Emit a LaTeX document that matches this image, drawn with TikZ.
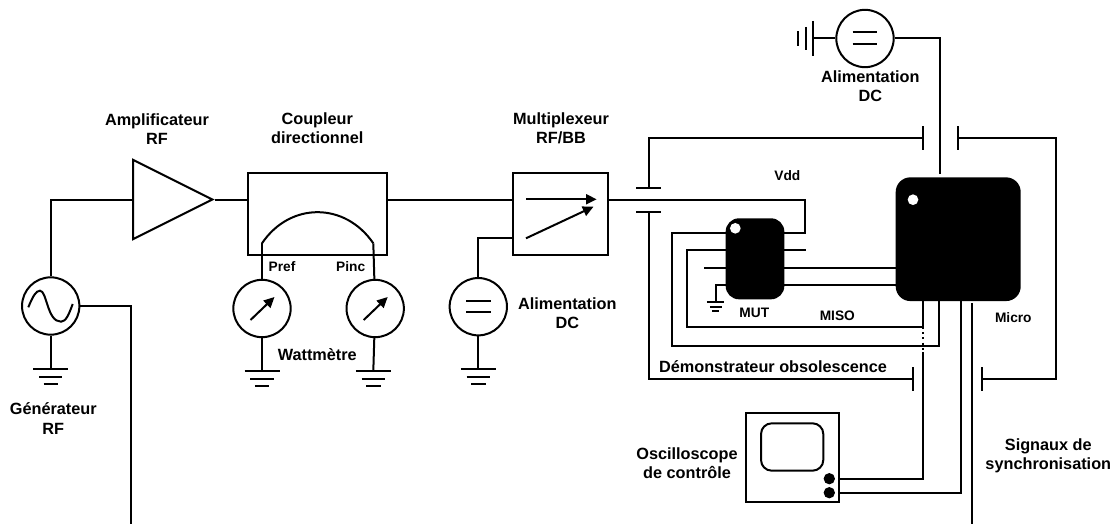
\documentclass[tikz,border=0pt]{standalone}
\usepackage{fontspec}
\setmainfont{Liberation Sans}
\usetikzlibrary{shapes.geometric, arrows.meta, positioning, calc}

\begin{document}
\begin{tikzpicture}[
  x=0.75pt, y=-0.75pt, line width=1.5pt,
  node distance=5pt and 40pt,
  source/.style={circle, draw, inner sep=0pt, minimum size=43pt},
  meter/.style={source, path picture={
      \draw[needle] ($(path picture bounding box.center)+(-11.5,11.5)$)
        -- ($(path picture bounding box.center)+(12.5,-11.5)$);}},
  dcsource/.style={source, path picture={
      \draw ($(path picture bounding box.center)+(-12.3,-6)$) -- ++(24.6,0);
      \draw ($(path picture bounding box.center)+(-12.3,5.6)$) -- ++(24.6,0);}},
  block/.style={rectangle, draw, inner sep=0pt},
  chip/.style={rectangle, fill=black, rounded corners=10pt, inner sep=0pt, outer sep=0pt},
  hole/.style={circle, fill=white, inner sep=0pt, minimum size=8pt},
  knob/.style={circle, fill=black, inner sep=0pt, minimum size=8.5pt},
  plateh/.style={fill=black, inner sep=0pt, outer sep=0pt, minimum width=19pt, minimum height=1.5pt},
  platev/.style={fill=black, inner sep=0pt, outer sep=0pt, minimum width=1.5pt, minimum height=18pt},
  needle/.style={-{Triangle[length=8pt,width=7.5pt]}},
  label/.style={align=center, inner sep=0pt, font=\fontsize{12.2}{14.3}\selectfont\bfseries},
  small/.style={align=center, inner sep=0pt, font=\fontsize{10.3}{12}\selectfont\bfseries},
  ground/.pic={
    \draw (-17.5,0) -- (17.5,0);
    \draw (-11.7,7.5) -- (11.7,7.5);
    \draw (-7.2,15) -- (7.2,15);}
]
\useasboundingbox (0,0) rectangle (1113,524);

% RF chain
\node[source] (gen) at (50.7,306) {};
\node[isosceles triangle, isosceles triangle apex angle=53.13, draw, inner sep=0pt,
      minimum width=59.6pt, anchor=lower side] (amp) at (132,199.5) {};
\node[block, minimum width=104pt, minimum height=61.3pt] (coupler) at (317.65,214.15) {};
\node[block, minimum width=71.25pt, minimum height=61.3pt] (mux) at (560.8,214.15) {};

% Sine of the generator
\draw (28.3,307.3) .. controls (33,296) and (36,290.7) .. (40,290.7)
  .. controls (47,290.7) and (47,321.7) .. (61,321.7)
  .. controls (66,321.7) and (69,314) .. (72.7,304);

% Wattmeters
\node[meter] (pref) at (262,308.5) {};
\node[meter, right=40.4pt of pref] (pinc) {};
\coordinate (prefin) at (262,243.3);
\coordinate (pincin) at (373.3,243.3);
\draw (prefin) .. controls (290,201.8) and (345,201.8) .. (pincin);
\draw (prefin) -- (pref);
\draw (pincin) -- (pinc);

% Switch of the multiplexer
\coordinate (muxa) at (526,199.3);
\coordinate (muxb) at (526,238.3);
\draw[needle] (muxa) -- (596.7,199.3);
\draw[needle] (muxb) -- (593.5,206.7);

% DC supplies
\node[dcsource] (dcmux) at (478.3,306.7) {};
\node[dcsource] (dctop) at (865,38.5) {};

% Chips
\node[chip, minimum width=44pt, minimum height=60.75pt] (mut) at (755,258.8) {};
\node[chip, minimum width=93.75pt, minimum height=92.8pt, rounded corners=11pt] (micro) at (958.2,239.2) {};
\node[hole] (mutdot) at (735.3,228.3) {};
\node[hole] (microdot) at (913,199.7) {};

% Plates of the demonstrator
\node[plateh] (platea) at (648.6,187.7) {};
\node[plateh] (plateb) at (648.6,212) {};
\node[platev] (platec) at (923.3,138.3) {};
\node[platev] (plated) at (957.7,138.3) {};
\node[platev] (platee) at (912.7,378.5) {};
\node[platev] (platef) at (981.7,378.5) {};

% Oscilloscope
\node[block, minimum width=69.5pt, minimum height=66.3pt] (scope) at (792.35,457.5) {};
\node[block, rounded corners=8pt, minimum width=46.7pt, minimum height=35.5pt] (screen) at (792.15,447) {};
\node[knob] (knoba) at (829.3,478.7) {};
\node[knob] (knobb) at (829.3,492.7) {};

% Grounds
\coordinate (gndgen) at (50.7,369);
\coordinate (gndpref) at (262,371);
\coordinate (gndpinc) at (373.3,371);
\coordinate (gnddc) at (478.3,369);
\coordinate (gndmut) at (715.7,302);
\coordinate (gndtop) at (813.3,38.5);
\pic at (gndgen) {ground};
\pic at (gndpref) {ground};
\pic at (gndpinc) {ground};
\pic at (gnddc) {ground};
\pic[xscale=0.5, yscale=0.63] at (gndmut) {ground};
\pic[rotate=-90] at (gndtop) {ground};
\draw (gen) -- (gndgen);
\draw (pref) -- (gndpref);
\draw (pinc) -- (gndpinc);
\draw (dcmux) -- (gnddc);
\draw (dctop) -- (gndtop);

% Main line
\coordinate (genout) at (130.5,524);
\coordinate (vddpin) at (805,233.3);
\draw (gen.north) |- (amp.lower side);
\draw (gen.east) -| (genout);
\draw (amp.apex) -- (amp.apex -| coupler.west);
\draw (amp.apex -| coupler.east) -- (amp.apex -| mux.west);
\draw (amp.apex -| mux.east) -- (amp.apex -| vddpin) -- (vddpin) -- (vddpin -| mut.east);
\draw (dcmux.north) |- (muxb -| mux.west);

% Wires of the demonstrator
\coordinate (topin) at (939.7,174);
\coordinate (rightbus) at (1055.7,250);
\draw (dctop.east) -| (topin);
\draw (platea) |- (platec);
\draw (plated) -| (rightbus) |- (platef);
\draw (plateb) |- (platee);

% Pins of the MUT
\coordinate (pina) at (672,233);
\coordinate (pinb) at (686.7,250.3);
\coordinate (pinc1) at (704.3,267.7);
\coordinate (pind) at (715.7,285.3);
\coordinate (pinf) at (805.7,250.3);
\coordinate (busa) at (939,345.7);
\coordinate (busb) at (923.3,327);
\coordinate (dotend) at (923.3,352);
\coordinate (busc) at (960.7,493.3);
\coordinate (sync) at (971.7,524);
\coordinate (syncin) at (971.7,303.3);
\draw (pina -| mut.west) -- (pina) |- (busa) -- (busa |- micro.south);
\draw (pinb -| mut.west) -- (pinb) |- (busb) -- (busb |- micro.south);
\draw (pinc1) -- (pinc1 -| mut.west);
\draw (pind -| mut.west) -- (pind) -- (gndmut);
\draw (pinf -| mut.east) -- (pinf);
\draw (pinc1 -| mut.east) -- (pinc1 -| micro.west);
\draw (pind -| mut.east) -- (pind -| micro.west);
\draw[dash pattern=on 1.5pt off 2.4pt] (busb) -- (dotend);
\draw (dotend) |- (knoba -| scope.east);
\draw (busc |- micro.south) -- (busc) -- (busc -| scope.east);
\draw (syncin) -- (sync);

% Labels
\node[label] (amplabel) at (157,129.5) {Amplificateur\\RF};
\node[label] (couplabel) at (317.3,128.5) {Coupleur\\directionnel};
\node[label] (muxlabel) at (561,128.5) {Multiplexeur\\RF/BB};
\node[label] (genlabel) at (53.3,418.5) {Générateur\\RF};
\node[label] (wattlabel) at (317.3,355) {Wattmètre};
\node[label] (dclabel) at (567.3,313.5) {Alimentation\\DC};
\node[label] (toplabel) at (870.3,86.3) {Alimentation\\DC};
\node[label] (demolabel) at (773,366.7) {Démonstrateur obsolescence};
\node[label] (scopelabel) at (687,463.2) {Oscilloscope\\de contrôle};
\node[label] (synclabel) at (1048.3,455.7) {Signaux de\\synchronisation};
\node[small] (preflabel) at (282,267) {Pref};
\node[small] (pinclabel) at (350.7,267) {Pinc};
\node[small] (vddlabel) at (787.3,175.3) {Vdd};
\node[small] (mutlabel) at (754.3,313.3) {MUT};
\node[small] (misolabel) at (837.3,316) {MISO};
\node[small] (microlabel) at (1013.3,317.3) {Micro};

\end{tikzpicture}
\end{document}
